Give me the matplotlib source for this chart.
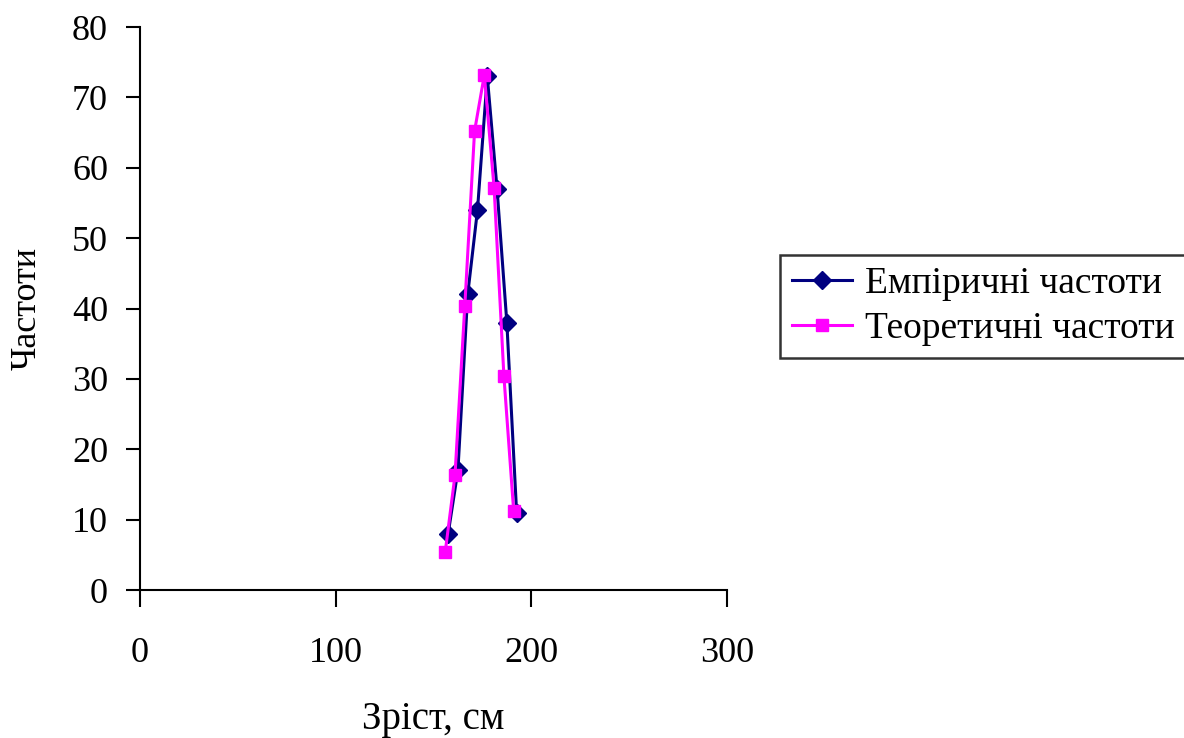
import matplotlib
matplotlib.use("Agg")
import matplotlib.pyplot as plt

x_emp = [157.5, 162.5, 167.5, 172.5, 177.5, 182.5, 187.5, 192.5]
y_emp = [8, 17, 42, 54, 73, 57, 38, 11]
x_theo = [156, 161, 166, 171, 176, 181, 186, 191]
y_theo = [5.4, 16.3, 40.3, 65.2, 73.2, 57.1, 30.4, 11.2]
xticks = [0, 100, 200, 300]
yticks = [0, 10, 20, 30, 40, 50, 60, 70, 80]

plt.rcParams['font.family'] = ['Liberation Serif', 'DejaVu Serif']

fig = plt.figure(figsize=(11.84, 7.38), dpi=100)
ax = fig.add_axes([0.1182, 0.2005, 0.614 - 0.1182, 0.9634 - 0.2005])

ax.plot(x_emp, y_emp, color='#000080', lw=2.2, marker='D', markersize=9,
        label='Емпіричні частоти')
ax.plot(x_theo, y_theo, color='#FF00FF', lw=2.2, marker='s', markersize=9,
        label='Теоретичні частоти')

ax.set_xlim(0, 300)
ax.set_ylim(0, 80)
ax.set_xticks(xticks)
ax.set_yticks(yticks)
for s in ['top', 'right']:
    ax.spines[s].set_visible(False)
for s in ['left', 'bottom']:
    ax.spines[s].set_linewidth(1.5)
ax.tick_params(axis='both', direction='out', width=1.5, labelsize=26)
ax.tick_params(axis='x', length=12, pad=22)
ax.tick_params(axis='y', length=10, pad=13)

ax.set_xlabel('Зріст, см', fontsize=28, labelpad=22)
ax.set_ylabel('Частоти', fontsize=26, labelpad=20)

leg = fig.legend(loc='center left', bbox_to_anchor=(0.659, 0.585),
                 fontsize=27, frameon=True, fancybox=False, handlelength=1.6,
                 handletextpad=0.35, borderpad=0.3, labelspacing=0.3,
                 borderaxespad=0)
leg.get_frame().set_edgecolor('black')
leg.get_frame().set_linewidth(1.8)

fig.savefig('out.png', dpi=100)
